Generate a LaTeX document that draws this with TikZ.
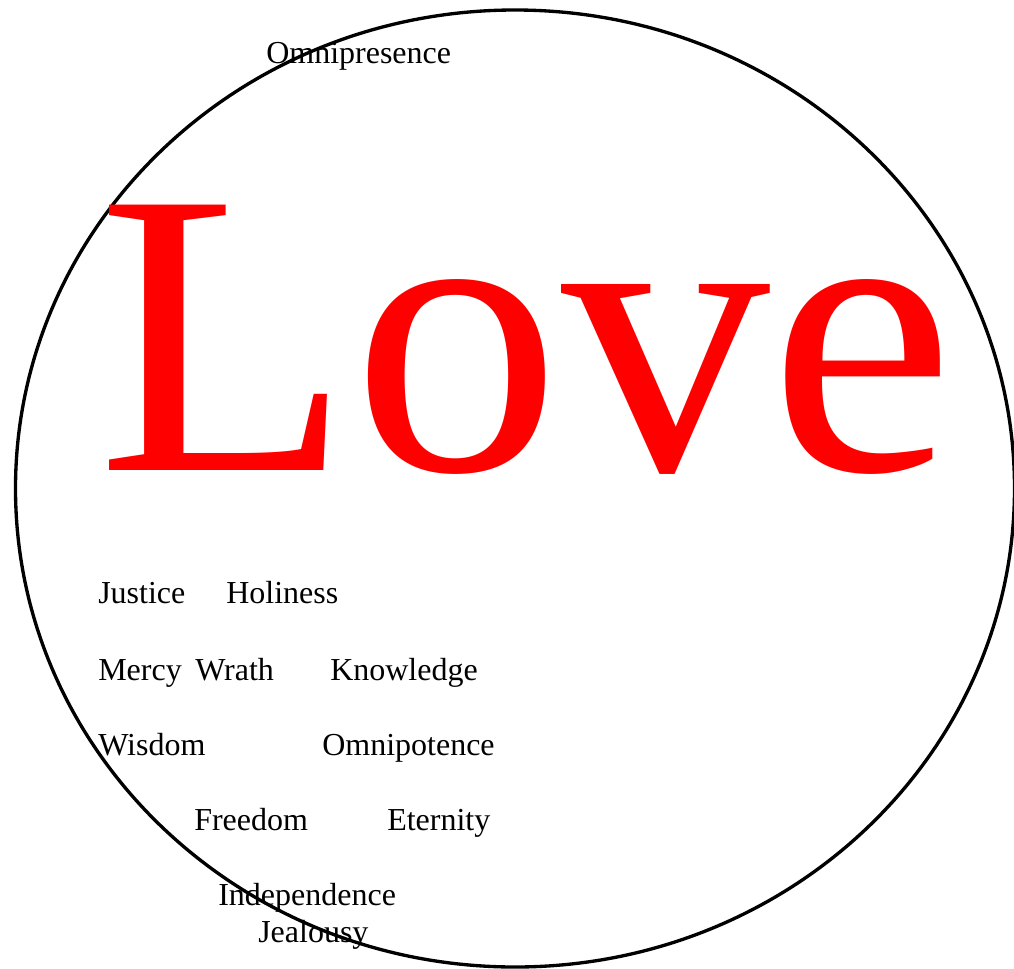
\documentclass[tikz,border=0pt]{standalone}
\usepackage{fontspec}
\setmainfont{Liberation Serif}
\usepackage{xcolor}
\usepackage{tikz}
\usetikzlibrary{positioning}

\begin{document}
\begin{tikzpicture}[
        x=0.75pt, y=-0.75pt,
        attr/.style={anchor=base west, inner sep=0pt, font=\fontsize{24}{24}\selectfont},
        big/.style={anchor=base west, inner sep=0pt, text=red, font=\fontsize{304}{304}\selectfont}
    ]
        \useasboundingbox (0,0) rectangle (1014,968);
        \clip (0,0) rectangle (1014,968);
        \draw[line width=2.5pt] (515,488.5) ellipse[x radius=499.5, y radius=478.5];

        \node[big, xscale=1.03, transform shape] (love) at (97,470) {Love};

        \node[attr] (omnipresence) at (266,63) {Omnipresence};
        \node[attr] (justice) at (98,603) {Justice};
        \node[attr] (holiness) at (226,603) {Holiness};
        \node[attr] (mercy) at (98,680) {Mercy};
        \node[attr] (wrath) at (195,680) {Wrath};
        \node[attr] (knowledge) at (330,680) {Knowledge};
        \node[attr] (wisdom) at (98,755) {Wisdom};
        \node[attr] (omnipotence) at (322,755) {Omnipotence};
        \node[attr] (freedom) at (194,830) {Freedom};
        \node[attr] (eternity) at (387,830) {Eternity};
        \node[attr] (independence) at (218,905) {Independence};
        \node[attr] (jealousy) at (258,942) {Jealousy};
    \end{tikzpicture}
\end{document}
